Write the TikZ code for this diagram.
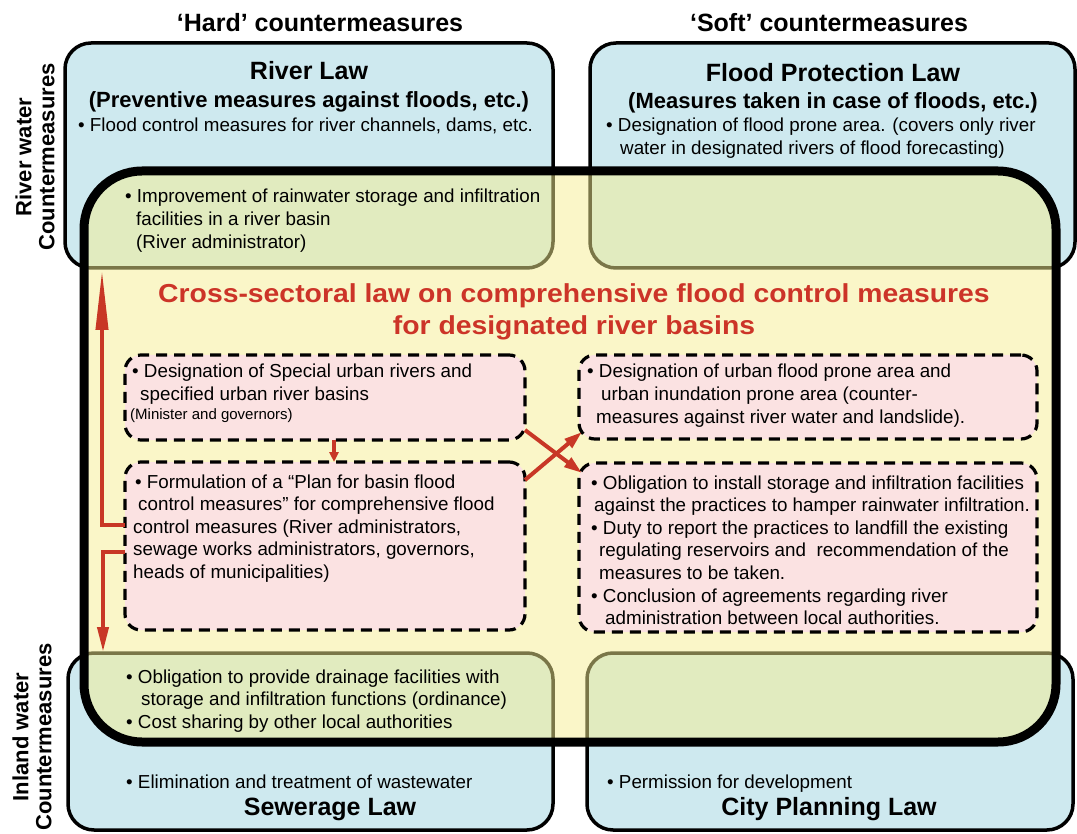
\documentclass[tikz,border=0pt]{standalone}
\usepackage{fontspec}
\setmainfont{Liberation Sans}
\newfontfamily\titlefont{Liberation Sans}[FakeStretch=1.09]
\usetikzlibrary{arrows.meta}
\definecolor{boxblue}{RGB}{206,233,239}
\definecolor{bigyellow}{RGB}{245,237,145}
\definecolor{pinkfill}{RGB}{251,226,226}
\definecolor{titlered}{RGB}{204,52,40}
\definecolor{arrowred}{RGB}{200,55,38}
\begin{document}
\begin{tikzpicture}[x=1pt,y=-1pt,
  lawbox/.style={draw=black,line width=3.5pt,fill=boxblue,rounded corners=26pt,inner sep=0pt,outer sep=0pt},
  bigbox/.style={draw=black,line width=9pt,fill=bigyellow,fill opacity=0.5,rounded corners=58pt,inner sep=0pt,outer sep=0pt},
  pinkbox/.style={draw=black,line width=3.2pt,fill=pinkfill,dash pattern=on 11pt off 7pt,rounded corners=16pt,inner sep=0pt,outer sep=0pt},
  txt/.style={inner sep=0pt,anchor=base west,align=left,font=\fontsize{18.8}{22.6}\selectfont},
  smalltxt/.style={inner sep=0pt,anchor=base west,font=\fontsize{15}{18}\selectfont},
  head/.style={inner sep=0pt,anchor=base,font=\bfseries\fontsize{25}{28}\selectfont},
  subhead/.style={inner sep=0pt,anchor=base,font=\bfseries\fontsize{22}{26}\selectfont},
  sidelabel/.style={inner sep=0pt,rotate=90,align=center,font=\bfseries\fontsize{22}{23}\selectfont},
  crosstitle/.style={inner sep=0pt,anchor=base,align=center,text=titlered,font=\titlefont\bfseries\fontsize{26}{32}\selectfont},
  redarrow/.style={draw=arrowred,line width=4pt},
]
\useasboundingbox (0,0) rectangle (1077,834);
% law boxes
\node[lawbox,minimum width=488pt,minimum height=225pt] (riverlaw) at (309,155.5) {};
\node[lawbox,minimum width=485pt,minimum height=225pt] (floodlaw) at (832.5,155.5) {};
\node[lawbox,minimum width=485pt,minimum height=177pt] (sewlaw) at (310.5,741.5) {};
\node[lawbox,minimum width=486pt,minimum height=177pt] (citylaw) at (830,741.5) {};
% cross-sectoral box
\node[bigbox,minimum width=972pt,minimum height=571pt] (cross) at (570,456.5) {};
% pink boxes
\node[pinkbox,minimum width=400pt,minimum height=85pt] (pa) at (325,397.5) {};
\node[pinkbox,minimum width=400pt,minimum height=168pt] (pb) at (325,546) {};
\node[pinkbox,minimum width=458pt,minimum height=84pt] (pc) at (808,397) {};
\node[pinkbox,minimum width=458pt,minimum height=169pt] (pd) at (808,547.5) {};
% headers
\node[head] (hardhdr) at (320,32) {‘Hard’ countermeasures};
\node[head] (softhdr) at (829,32) {‘Soft’ countermeasures};
\node[sidelabel] (rivside) at (35,157) {River water\\Countermeasures};
\node[sidelabel] (inlside) at (32,737) {Inland water\\Countermeasures};
% top-left
\node[head] (rlt) at (309,80) {River Law};
\node[subhead] (rls) at (309,108) {(Preventive measures against floods, etc.)};
\node[txt] (rlb) at (78,132) {• Flood control measures for river channels, dams, etc.};
% top-right
\node[head] (fpt) at (833,82) {Flood Protection Law};
\node[subhead] (fps) at (833,109) {(Measures taken in case of floods, etc.)};
\node[txt] (fpb) at (606,154.6) {• Designation of flood prone area. (covers only river\\\hspace*{14pt}water in designated rivers of flood forecasting)};
% overlap top-left
\node[txt] (impr) at (125,248.2) {• Improvement of rainwater storage and infiltration\\\hspace*{11pt}facilities in a river basin\\\hspace*{11pt}(River administrator)};
% title
\node[crosstitle] (ttl) at (574,335) {Cross-sectoral law on comprehensive flood control measures\\for designated river basins};
% pink texts
\node[txt] (pat) at (132,400.6) {• Designation of Special urban rivers and\\\hspace*{8pt}specified urban river basins};
\node[smalltxt] (pas) at (130,420) {(Minister and governors)};
\node[txt] (pbt) at (133,578.4) {\hspace*{2pt}• Formulation of a “Plan for basin flood\\\hspace*{5pt}control measures” for comprehensive flood\\control measures (River administrators,\\sewage works administrators, governors,\\heads of municipalities)};
\node[txt] (pct) at (587,423.2) {• Designation of urban flood prone area and\\\hspace*{14pt}urban inundation prone area (counter-\\\hspace*{9pt}measures against river water and landslide).};
\node[txt] (pdt) at (591,624.6) {• Obligation to install storage and infiltration facilities\\\hspace*{3pt}against the practices to hamper rainwater infiltration.\\• Duty to report the practices to landfill the existing\\\hspace*{8pt}regulating reservoirs and\ \ recommendation of the\\\hspace*{8pt}measures to be taken.\\• Conclusion of agreements regarding river\\\hspace*{14pt}administration between local authorities.};
% bottom-left
\node[txt] (sewt) at (126,728.2) {• Obligation to provide drainage facilities with\\\hspace*{15pt}storage and infiltration functions (ordinance)\\• Cost sharing by other local authorities};
\node[txt] (sewb) at (126,788) {• Elimination and treatment of wastewater};
\node[head] (sewh) at (330,815) {Sewerage Law};
% bottom-right
\node[txt] (cityb) at (607,788) {• Permission for development};
\node[head] (cityh) at (829,815) {City Planning Law};
% arrows
\coordinate (uptip) at (102,270);
\coordinate (downtip) at (103,652);
\draw[redarrow,-{Triangle[length=60pt,width=12pt]}] ([yshift=21pt]pb.west) -| (uptip);
\draw[redarrow,-{Triangle[length=25pt,width=11pt]}] ([yshift=-6pt]pb.west) -| (downtip);
\draw[redarrow,-{Triangle[length=10pt,width=9pt]}] ([xshift=9pt]pa.south) -- ([xshift=9pt]pb.north);
\draw[redarrow,-{Triangle[length=18pt,width=11pt]}] ([yshift=10pt]pa.south east) -- ([xshift=3pt,yshift=-10pt]pd.north west);
\draw[redarrow,-{Triangle[length=18pt,width=11pt]}] ([yshift=-18pt]pb.north east) -- ([xshift=3pt,yshift=7pt]pc.south west);
\end{tikzpicture}
\end{document}
